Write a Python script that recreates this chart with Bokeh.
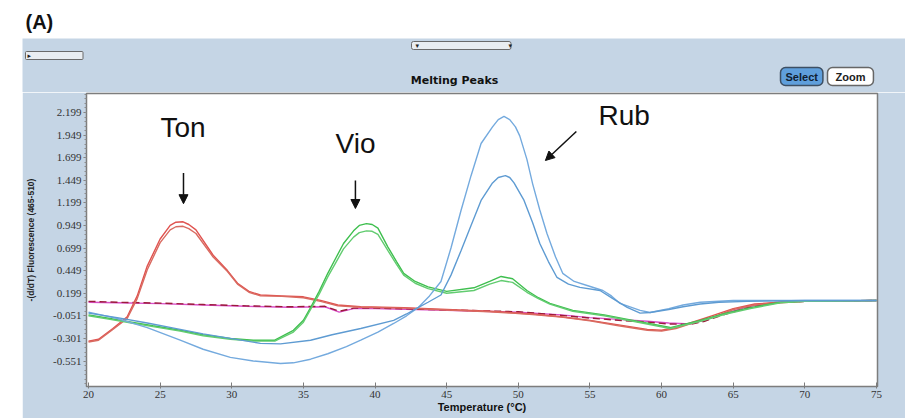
from bokeh.plotting import figure
from bokeh.models import Range1d, FixedTicker, Label, Arrow, NormalHead, Spacer
from bokeh.layouts import column, row
from bokeh.embed import file_html
from bokeh.resources import INLINE

# ---------------- data ----------------
x_ticks = [20, 25, 30, 35, 40, 45, 50, 55, 60, 65, 70, 75]
x_tick_labels = ["20", "25", "30", "35", "40", "45", "50", "55", "60", "65", "70", "75"]
y_ticks = [2.199, 1.949, 1.699, 1.449, 1.199, 0.949, 0.699, 0.449, 0.199, -0.051, -0.301, -0.551]
y_tick_labels = ["2.199", "1.949", "1.699", "1.449", "1.199", "0.949", "0.699", "0.449", "0.199", "-0.051", "-0.301", "-0.551"]

ton_t = [20, 20.7, 21.7, 22.7, 23.4, 24.1, 25.0, 25.7, 26.1, 26.6, 27.0, 27.5, 28.7, 29.7, 30.4, 31.2, 32.0, 33.5, 35.0, 36.2, 37.4, 39,
         42, 45, 48, 51, 53, 55, 57, 59, 60, 61, 62, 63.5, 65, 66.5, 68.3, 70, 72.5, 75]
ton_a = [-0.33, -0.31, -0.19, -0.06, 0.17, 0.50, 0.80, 0.95, 0.985, 0.99, 0.96, 0.90, 0.62, 0.45, 0.31, 0.22, 0.18, 0.17, 0.16, 0.12, 0.07, 0.05,
         0.04, 0.02, 0.00, -0.03, -0.06, -0.10, -0.15, -0.20, -0.21, -0.18, -0.13, -0.05, 0.03, 0.08, 0.10, 0.11, 0.115, 0.12]
ton_b = [-0.34, -0.32, -0.20, -0.08, 0.14, 0.46, 0.76, 0.90, 0.935, 0.94, 0.915, 0.86, 0.60, 0.44, 0.30, 0.21, 0.17, 0.165, 0.15, 0.11, 0.06, 0.045,
         0.035, 0.015, -0.005, -0.035, -0.065, -0.105, -0.16, -0.21, -0.22, -0.19, -0.14, -0.07, 0.02, 0.07, 0.095, 0.11, 0.115, 0.12]

vio_t = [20, 21.5, 23, 24.5, 26.4, 28, 29.9, 31.5, 33, 34.3, 35, 35.5, 36.1, 36.7, 37.3, 37.8, 38.5, 38.9, 39.4, 39.8, 40.2, 40.9,
         41.5, 42.0, 42.8, 43.7, 45, 46.9, 48.0, 48.8, 49.6, 50.6, 51.4, 52.2, 53.8, 56, 58, 60.6, 62.7, 64.5, 66.2, 68.3, 70, 75]
vio_a = [-0.04, -0.08, -0.12, -0.16, -0.21, -0.26, -0.30, -0.32, -0.32, -0.21, -0.10, 0.04, 0.22, 0.42, 0.60, 0.75, 0.89, 0.95, 0.97, 0.96, 0.92, 0.71,
         0.55, 0.42, 0.33, 0.27, 0.22, 0.26, 0.33, 0.385, 0.36, 0.23, 0.15, 0.087, 0.01, -0.04, -0.10, -0.18, -0.10, -0.02, 0.04, 0.10, 0.11, 0.12]
vio_b = [-0.05, -0.09, -0.13, -0.17, -0.22, -0.27, -0.31, -0.33, -0.33, -0.23, -0.12, 0.02, 0.19, 0.38, 0.55, 0.69, 0.82, 0.87, 0.89, 0.885, 0.85, 0.67,
         0.52, 0.40, 0.31, 0.25, 0.20, 0.23, 0.30, 0.34, 0.32, 0.21, 0.14, 0.08, 0.00, -0.05, -0.11, -0.19, -0.11, -0.03, 0.03, 0.095, 0.11, 0.12]

rub_t = [20, 22, 24.1, 26.4, 28, 29.9, 31.5, 33.4, 34.3, 35.5, 36.7, 38, 39, 40.2, 41.3, 42.2, 43, 43.8, 44.6, 45.3,
         46, 46.7, 47.4, 48.2, 48.6, 49.0, 49.4, 49.8, 50.1, 50.6, 51.0, 51.5, 52.0, 52.6, 53.1, 53.9, 54.8, 55.9, 56.5, 57.1, 58.5, 59.2,
         60.5, 61.5, 62.7, 65, 70, 75]
rub_a = [-0.01, -0.08, -0.18, -0.32, -0.42, -0.51, -0.55, -0.577, -0.57, -0.53, -0.47, -0.39, -0.32, -0.23, -0.135, -0.05, 0.04, 0.17, 0.33, 0.70,
         1.115, 1.50, 1.856, 2.04, 2.12, 2.155, 2.12, 2.04, 1.94, 1.68, 1.41, 1.12, 0.86, 0.60, 0.42, 0.33, 0.285, 0.23, 0.17, 0.087, 0.01, -0.013,
         0.03, 0.07, 0.10, 0.12, 0.12, 0.12]
rub_bt = [20, 22, 24.1, 26.4, 28, 29.9, 32, 33.4, 35.5, 37, 39, 41.3, 42.2, 43, 43.7, 44.6, 45.3, 46, 46.7, 47.4,
          48.2, 48.6, 49.1, 49.4, 49.7, 50.4, 51.0, 51.5, 52.1, 52.7, 53.5, 54.3, 55.7, 56.6, 57.6, 58.5, 59.2, 60.5, 61.5, 62.7, 64, 66, 70, 75]
rub_b = [-0.02, -0.07, -0.13, -0.20, -0.25, -0.30, -0.355, -0.36, -0.32, -0.26, -0.19, -0.10, -0.03, 0.04, 0.10, 0.18, 0.40, 0.67, 0.95, 1.226,
         1.42, 1.48, 1.50, 1.48, 1.42, 1.226, 0.98, 0.75, 0.55, 0.374, 0.30, 0.264, 0.23, 0.14, 0.043, -0.02, -0.013, 0.02, 0.05, 0.08, 0.10, 0.11, 0.12, 0.12]

base_t = [20, 22, 25, 28, 31, 34, 36.5, 37.5, 38.5, 40, 45, 50, 53, 55, 57, 59, 60.5, 62, 63, 64.5, 66, 68, 70, 75]
base_a = [0.10, 0.095, 0.085, 0.07, 0.055, 0.045, 0.05, -0.01, 0.03, 0.03, 0.01, -0.01, -0.04, -0.07, -0.09, -0.11, -0.13, -0.14, -0.10, -0.02,
          0.05, 0.10, 0.11, 0.12]
base_b = [0.11, 0.10, 0.09, 0.075, 0.06, 0.05, 0.055, 0.0, 0.035, 0.035, 0.015, -0.005, -0.045, -0.075, -0.10, -0.12, -0.14, -0.145, -0.11, -0.03,
          0.04, 0.095, 0.11, 0.12]

PANEL = "#c5d5e5"
TICK_FONT = "Liberation Sans Narrow"


def bare(fig):
    fig.xaxis.visible = False
    fig.yaxis.visible = False
    fig.grid.visible = False


# ---------------- top strip with "(A)" ----------------
top = figure(width=905, height=38, x_range=Range1d(0, 905), y_range=Range1d(0, 38),
             output_backend="svg", toolbar_location=None, min_border=0,
             border_fill_color="white", background_fill_color="white", outline_line_color=None)
top.frame_align = False
bare(top)
top.add_layout(Label(x=25, y=17, text="(A)", text_font="Liberation Sans", text_font_style="bold",
                     text_font_size="20px", text_color="#111111", text_baseline="alphabetic"))

# ---------------- header bar of the panel ----------------
hdr = figure(width=883, height=54, x_range=Range1d(0, 883), y_range=Range1d(0, 54),
             output_backend="svg", toolbar_location=None, min_border=0,
             border_fill_color=PANEL, background_fill_color=PANEL, outline_line_color=None)
hdr.frame_align = False
bare(hdr)
hdr.add_layout(Label(x=432, y=12, text="Melting Peaks", text_font="DejaVu Sans", text_font_style="bold",
                     text_font_size="11px", text_color="#111111", text_baseline="middle", text_align="center"))
hdr.add_layout(Label(x=758, y=16, text="Select", text_font="Liberation Sans", text_font_style="bold",
                     text_font_size="11px", text_color="#102030", text_baseline="middle",
                     background_fill_color="#5f9fdc", border_line_color="#3d4f63", border_line_width=1.5,
                     border_radius=5, padding=dict(left=5, right=5, top=3, bottom=3)))
hdr.add_layout(Label(x=805, y=16, text="Zoom", text_font="Liberation Sans", text_font_style="bold",
                     text_font_size="11px", text_color="#202020", text_baseline="middle",
                     background_fill_color="white", border_line_color="#666666", border_line_width=1.5,
                     border_radius=5, padding=dict(left=8, right=8, top=3, bottom=3)))
hdr.add_layout(Label(x=389, y=47, text="▾", text_font="DejaVu Sans", text_font_size="7px",
                     text_color="#222222", text_baseline="middle",
                     background_fill_color="#e9edf1", border_line_color="#6a6a6a",
                     border_radius=2, padding=dict(left=4, right=92, top=0, bottom=0)))
hdr.add_layout(Label(x=486, y=47, text="▾", text_font="DejaVu Sans", text_font_size="7px",
                     text_color="#222222", text_baseline="middle"))
hdr.add_layout(Label(x=3, y=37, text="▸", text_font="DejaVu Sans", text_font_size="7px",
                     text_color="#222222", text_baseline="middle",
                     background_fill_color="#e9edf1", border_line_color="#6a6a6a",
                     border_radius=1, padding=dict(left=2, right=52, top=0, bottom=0)))

# ---------------- main chart ----------------
p = figure(width=883, height=326, x_range=Range1d(19.86, 75.07), y_range=Range1d(-0.832, 2.409),
           output_backend="svg", toolbar_location=None,
           min_border_left=64, min_border_right=28, min_border_top=1, min_border_bottom=32,
           border_fill_color=PANEL, background_fill_color="white",
           outline_line_color="#7d7d7d", outline_line_width=1.5)
p.frame_align = False
p.grid.visible = False

# x axis
p.xaxis.ticker = FixedTicker(ticks=x_ticks)
p.xaxis.major_label_overrides = {t: s for t, s in zip(x_ticks, x_tick_labels)}
p.xaxis.axis_label = "Temperature (°C)"
p.xaxis.axis_label_text_font = "Liberation Sans"
p.xaxis.axis_label_text_font_style = "bold"
p.xaxis.axis_label_text_font_size = "11px"
p.xaxis.axis_label_text_color = "#111111"
p.xaxis.axis_label_standoff = 0
p.xaxis.major_label_text_font = TICK_FONT
p.xaxis.major_label_text_font_size = "11px"
p.xaxis.major_label_text_color = "#333333"
p.xaxis.major_label_standoff = 2
p.xaxis.major_tick_in = 4
p.xaxis.major_tick_out = 2
p.xaxis.minor_tick_line_color = None
p.xaxis.axis_line_color = "#7d7d7d"
p.xaxis.major_tick_line_color = "#7d7d7d"

# y axis
y_minor = [round(-0.801 + 0.05 * i, 3) for i in range(66)]
p.yaxis.ticker = FixedTicker(ticks=y_ticks, minor_ticks=y_minor)
p.yaxis.major_label_overrides = {t: s for t, s in zip(y_ticks, y_tick_labels)}
p.yaxis.axis_label = "-(d/dT) Fluorescence (465-510)"
p.yaxis.axis_label_text_font = "Liberation Sans"
p.yaxis.axis_label_text_font_style = "bold"
p.yaxis.axis_label_text_font_size = "8.5px"
p.yaxis.axis_label_text_color = "#222222"
p.yaxis.axis_label_standoff = 14
p.yaxis.major_label_text_font = TICK_FONT
p.yaxis.major_label_text_font_size = "11px"
p.yaxis.major_label_text_color = "#333333"
p.yaxis.major_label_standoff = 2
p.yaxis.major_tick_in = 0
p.yaxis.major_tick_out = 3
p.yaxis.minor_tick_in = 0
p.yaxis.minor_tick_out = 2
p.yaxis.axis_line_color = "#7d7d7d"
p.yaxis.major_tick_line_color = "#7d7d7d"
p.yaxis.minor_tick_line_color = "#8d8d8d"

# curves
p.line(base_t, base_a, line_color="#d94fc8", line_width=1.4)
p.line(base_t, base_b, line_color="#9b1b3a", line_width=1.4, line_dash="7 4")
p.line(ton_t, ton_a, line_color="#e0524f", line_width=1.4)
p.line(ton_t, ton_b, line_color="#d96a60", line_width=1.4)
p.line(vio_t, vio_a, line_color="#3fbf4f", line_width=1.4)
p.line(vio_t, vio_b, line_color="#62cc70", line_width=1.4)
p.line(rub_t, rub_a, line_color="#74aade", line_width=1.4)
p.line(rub_bt, rub_b, line_color="#5e9bd2", line_width=1.4)

# annotations
for txt, tx, ty in [("Ton", 25.02, 2.03), ("Vio", 37.24, 1.86), ("Rub", 55.59, 2.165)]:
    p.add_layout(Label(x=tx, y=ty, text=txt, text_font="Liberation Sans", text_font_size="28px",
                       text_color="#111111", text_baseline="alphabetic"))
for xs, ys, xe, ye in [(26.63, 1.53, 26.63, 1.19), (38.63, 1.447, 38.63, 1.137), (54.05, 1.989, 51.89, 1.668)]:
    p.add_layout(Arrow(end=NormalHead(size=9, fill_color="#111111", line_color="#111111"),
                       x_start=xs, y_start=ys, x_end=xe, y_end=ye, line_color="#111111", line_width=1.5))

layout = column(top, row(Spacer(width=22, height=380), column(hdr, p)))

open("out.html", "w").write(file_html(layout, INLINE))
